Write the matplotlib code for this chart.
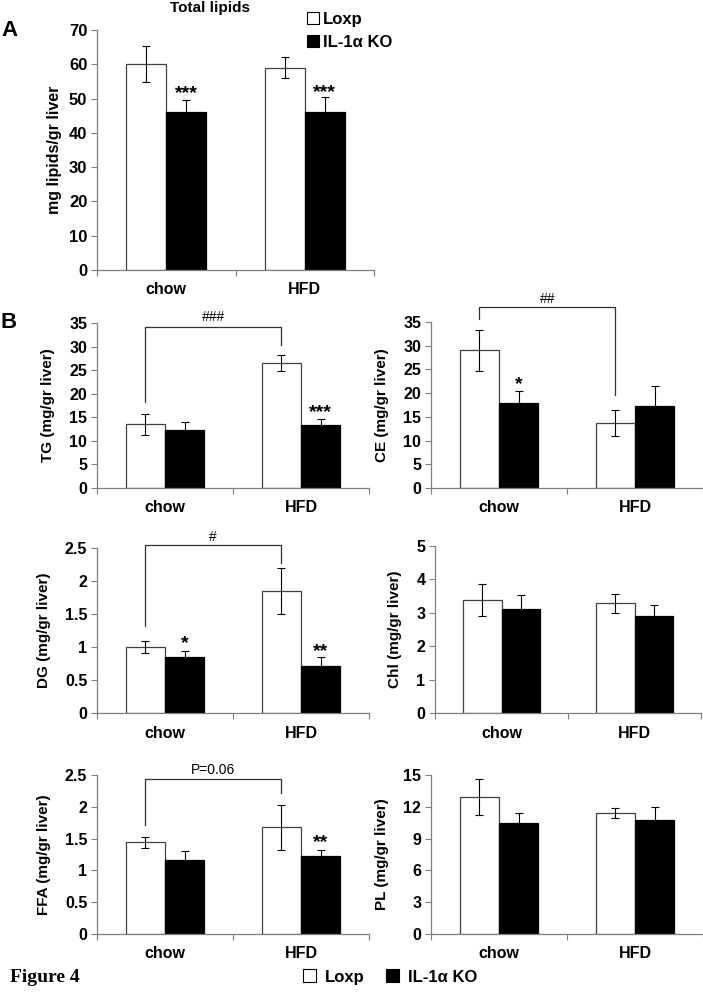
import matplotlib
matplotlib.use("Agg")
import matplotlib.pyplot as plt
from matplotlib.patches import Patch
import numpy as np

plt.rcParams['font.family'] = ['Liberation Sans', 'DejaVu Sans']
plt.rcParams['font.weight'] = 'bold'

# ---------------- data ----------------
categories = ['chow', 'HFD']
series_names = ['Loxp', 'IL-1\u03b1 KO']

total_loxp = [60.0, 59.0]
total_loxp_err = [5.3, 3.0]
total_ko = [46.0, 46.0]
total_ko_err = [3.5, 4.5]

tg_loxp = [13.5, 26.6]
tg_loxp_err = [2.3, 1.7]
tg_ko = [12.3, 13.3]
tg_ko_err = [1.65, 1.3]

ce_loxp = [29.0, 13.7]
ce_loxp_err = [4.4, 2.7]
ce_ko = [18.0, 17.2]
ce_ko_err = [2.4, 4.3]

dg_loxp = [1.0, 1.85]
dg_loxp_err = [0.09, 0.35]
dg_ko = [0.85, 0.71]
dg_ko_err = [0.09, 0.14]

chl_loxp = [3.38, 3.28]
chl_loxp_err = [0.48, 0.29]
chl_ko = [3.12, 2.89]
chl_ko_err = [0.42, 0.35]

ffa_loxp = [1.44, 1.68]
ffa_loxp_err = [0.09, 0.355]
ffa_ko = [1.16, 1.22]
ffa_ko_err = [0.14, 0.095]

pl_loxp = [12.9, 11.45]
pl_loxp_err = [1.7, 0.47]
pl_ko = [10.47, 10.75]
pl_ko_err = [0.9, 1.2]

# ---------------- layout helpers ----------------
W, H = 703, 994
fig = plt.figure(figsize=(W / 100, H / 100), dpi=100)
fig.patch.set_facecolor('white')

SPINE = '#7f7f7f'
EDGE = '#404040'
BW = 0.29


def px_axes(left, right, top, bottom):
    return fig.add_axes([left / W, 1 - bottom / H, (right - left) / W, (bottom - top) / H])


def draw_panel(ax, loxp, loxp_err, ko, ko_err, ymax, ystep, ylabel, tickfmt,
               ylabel_size=11, tick_size=11.5):
    x = np.arange(len(categories)) + 0.5
    ax.bar(x - BW / 2, loxp, BW, color='white', edgecolor=EDGE, linewidth=0.9, zorder=2)
    ax.bar(x + BW / 2, ko, BW, color='black', edgecolor='black', linewidth=0.9, zorder=2)
    ax.errorbar(x - BW / 2, loxp, yerr=loxp_err, fmt='none', ecolor='black',
                elinewidth=0.8, capsize=2.6, capthick=0.8, zorder=3)
    ax.errorbar(x + BW / 2, ko, yerr=ko_err, fmt='none', ecolor='black',
                elinewidth=0.8, capsize=2.6, capthick=0.8, zorder=3)
    ax.set_xlim(0, len(categories))
    ax.set_ylim(0, ymax)
    ticks = np.arange(0, ymax + ystep / 2, ystep)
    ax.set_yticks(ticks)
    ax.set_yticklabels([tickfmt(t) for t in ticks], fontsize=tick_size, fontweight='bold')
    ax.set_xticks(x)
    ax.set_xticklabels(categories, fontsize=11.5, fontweight='bold')
    ax.set_xticks(np.arange(0, len(categories) + 1), minor=True)
    ax.tick_params(axis='x', which='major', length=0, pad=9)
    ax.tick_params(axis='x', which='minor', length=4, width=0.8, color=SPINE, direction='out')
    ax.tick_params(axis='y', length=4, width=0.8, color=SPINE, direction='out', pad=3)
    for s in ['top', 'right']:
        ax.spines[s].set_visible(False)
    for s in ['left', 'bottom']:
        ax.spines[s].set_color(SPINE)
        ax.spines[s].set_linewidth(0.9)
    ax.set_ylabel(ylabel, fontsize=ylabel_size, fontweight='bold', labelpad=10)
    ax.set_facecolor('none')


def stars(ax, xi, y, s):
    ax.text(xi + 0.5 + BW / 2, y, s, ha='center', va='center', fontsize=14,
            fontweight='bold', clip_on=False)


def bracket(ax, yl, yr, ytop, label, ytext, weight='normal'):
    xl = 0.5 - BW / 2
    xr = 1.5 - BW / 2
    ax.plot([xl, xl, xr, xr], [yl, ytop, ytop, yr], color='#303030', lw=0.9,
            clip_on=False, zorder=4)
    ax.text((xl + xr) / 2, ytext, label, ha='center', va='center', fontsize=10,
            fontweight=weight, clip_on=False)


fmt_int = lambda t: f"{t:g}"

# ---------------- panel A ----------------
axA = px_axes(97, 374, 30, 270)
draw_panel(axA, total_loxp, total_loxp_err, total_ko, total_ko_err, 70, 10,
           'mg lipids/gr liver', fmt_int, ylabel_size=11.5, tick_size=12)
axA.yaxis.labelpad = 5
stars(axA, 0, 51.5, '***')
stars(axA, 1, 51.8, '***')
fig.text(210 / W, 1 - 8 / H, 'Total lipids', ha='center', va='center', fontsize=11,
         fontweight='bold')
fig.text(1 / W, 1 - 31 / H, 'A', ha='left', va='center', fontsize=16, fontweight='bold')
fig.text(1 / W, 1 - 322 / H, 'B', ha='left', va='center', fontsize=16, fontweight='bold')

handles = [Patch(facecolor='white', edgecolor='black', linewidth=0.8),
           Patch(facecolor='black', edgecolor='black', linewidth=0.8)]
fig.legend(handles, series_names, loc='upper left', bbox_to_anchor=(292 / W, 1 + 3 / H),
           frameon=False, handlelength=0.7, handleheight=0.7, handletextpad=0.25,
           labelspacing=0.45, prop={'weight': 'bold', 'size': 12})

# ---------------- panel B ----------------
axTG = px_axes(97, 369, 323, 488)
draw_panel(axTG, tg_loxp, tg_loxp_err, tg_ko, tg_ko_err, 35, 5, 'TG (mg/gr liver)', fmt_int)
stars(axTG, 1, 16.0, '***')
bracket(axTG, 18.3, 30.4, 34.2, '###', 36.3)

axCE = px_axes(431, 703, 322, 488)
draw_panel(axCE, ce_loxp, ce_loxp_err, ce_ko, ce_ko_err, 35, 5, 'CE (mg/gr liver)', fmt_int)
stars(axCE, 0, 21.8, '*')
bracket(axCE, 35.6, 19.6, 38.2, '##', 39.9)

axDG = px_axes(97, 369, 548, 713)
draw_panel(axDG, dg_loxp, dg_loxp_err, dg_ko, dg_ko_err, 2.5, 0.5, 'DG (mg/gr liver)', fmt_int)
stars(axDG, 0, 1.05, '*')
stars(axDG, 1, 0.93, '**')
bracket(axDG, 1.32, 2.27, 2.55, '#', 2.67)

axCHL = px_axes(435, 701, 546, 713)
draw_panel(axCHL, chl_loxp, chl_loxp_err, chl_ko, chl_ko_err, 5, 1, 'Chl (mg/gr liver)', fmt_int)

axFFA = px_axes(97, 369, 775, 934)
draw_panel(axFFA, ffa_loxp, ffa_loxp_err, ffa_ko, ffa_ko_err, 2.5, 0.5, 'FFA (mg/gr liver)', fmt_int)
stars(axFFA, 1, 1.43, '**')
bracket(axFFA, 1.71, 2.22, 2.44, 'P=0.06', 2.58)

axPL = px_axes(431, 703, 775, 934)
draw_panel(axPL, pl_loxp, pl_loxp_err, pl_ko, pl_ko_err, 15, 3, 'PL (mg/gr liver)', fmt_int)

# ---------------- footer ----------------
fig.text(10 / W, 1 - 978 / H, 'Figure 4', ha='left', va='center', fontsize=14,
         fontweight='bold', family=['Liberation Serif', 'DejaVu Serif'])
fig.legend(handles, series_names, loc='center left', bbox_to_anchor=(288 / W, 1 - 977 / H),
           ncol=2, frameon=False, handlelength=0.8, handleheight=0.8, handletextpad=0.5,
           columnspacing=1.3, prop={'weight': 'bold', 'size': 12})

fig.savefig('out.png', dpi=100, facecolor='white')
